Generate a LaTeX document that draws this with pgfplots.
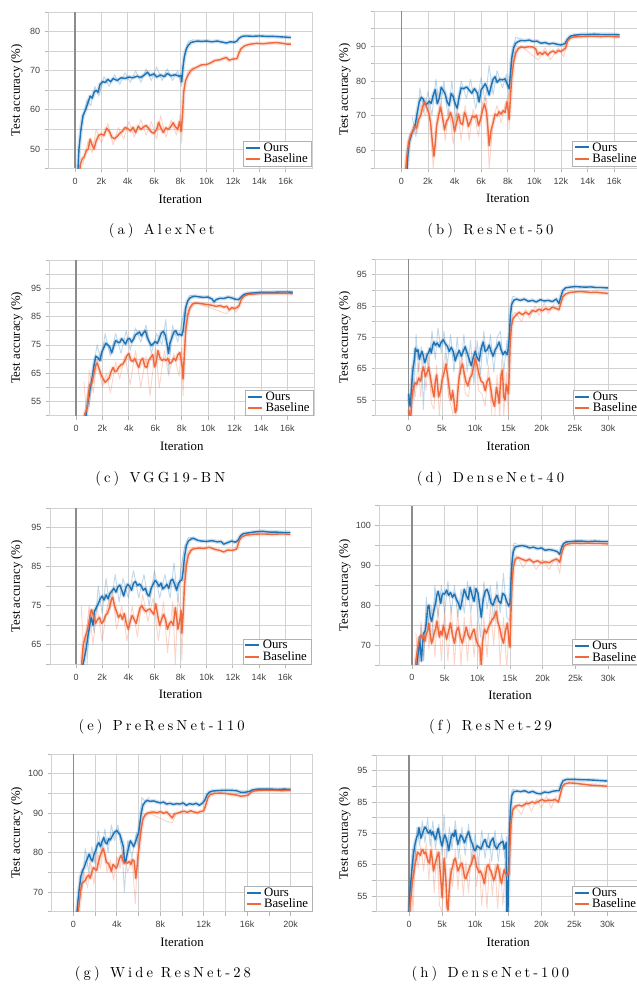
\documentclass[border=0pt]{standalone}
\usepackage{fontspec}
\setmainfont{Liberation Serif}
\newfontfamily\tickff{Liberation Sans}
\newfontfamily\capff{lmroman10-regular.otf}[LetterSpace=21]
\usepackage{pgfplots}
\usepackage{pgfplotstable}
\pgfplotsset{compat=1.18}
\definecolor{cblue}{RGB}{31,114,180}
\definecolor{corange}{RGB}{240,104,60}
\newcommand\labf{\fontsize{12.8}{14}\selectfont}
\newcommand\legf{\fontsize{12.8}{13.5}\selectfont}
\newcommand\tickf{\tickff\fontsize{9}{10}\selectfont}
\newcommand\capf{\capff\fontsize{14.6}{16}\selectfont}

% ---------- mean curves ----------
\pgfplotstableread[row sep=\\]{x y\\0.15 40\\0.3 50\\0.45 55\\0.6 58.5\\0.8 60\\1.0 62\\1.15 63.5\\1.3 63\\1.45 64.5\\1.6 65\\1.75 64.5\\1.9 66.5\\2.1 67.2\\2.3 67\\2.5 67.8\\2.7 67.2\\2.9 68\\3.2 67.5\\3.5 68.2\\3.8 68\\4.1 68.4\\4.4 68.2\\4.7 68.6\\5.0 68.3\\5.3 69.0\\5.5 69.6\\5.7 68.8\\6.0 69.2\\6.2 68.4\\6.5 68.9\\6.8 68.5\\7.0 69.3\\7.3 68.7\\7.6 69.0\\7.9 68.6\\8.05 68.8\\8.1 67.2\\8.2 71\\8.3 73.5\\8.45 75.5\\8.6 76.5\\8.8 77.2\\9.0 77.4\\9.3 77.6\\9.6 77.5\\10 77.6\\10.4 77.4\\10.8 77.6\\11.2 77.3\\11.5 77.1\\11.8 77.4\\12.1 77.3\\12.3 77.6\\12.45 78.3\\12.7 78.8\\13 78.9\\13.5 78.8\\14 78.9\\14.5 78.8\\15 78.8\\15.5 78.7\\16 78.6\\16.4 78.5\\}\aO
\pgfplotstableread[row sep=\\]{x y\\0.25 40\\0.4 46\\0.55 47.5\\0.7 48\\0.85 49.5\\1.0 50\\1.15 52.5\\1.3 51\\1.45 50\\1.6 52\\1.8 53.5\\2.0 53.8\\2.2 53.5\\2.4 55.3\\2.6 54.5\\2.8 53\\3.0 52.6\\3.2 53.2\\3.4 54\\3.6 54.5\\3.8 55.5\\4.0 55.2\\4.2 54.6\\4.4 55.5\\4.6 54.2\\4.8 55.8\\5.0 55\\5.2 55.6\\5.4 56\\5.6 55.2\\5.8 54.3\\6.0 54\\6.2 55\\6.35 56.8\\6.5 55.5\\6.7 54.2\\6.9 55.4\\7.1 55\\7.3 55.8\\7.45 56.7\\7.6 55.8\\7.8 55\\7.95 57\\8.05 54.5\\8.15 58\\8.25 64.5\\8.4 67.5\\8.6 69\\8.8 70\\9.0 70.5\\9.3 71\\9.6 71.5\\10 71.6\\10.3 72\\10.6 72.6\\11 72.8\\11.3 73.2\\11.5 73.4\\11.7 72.7\\12 73.0\\12.3 73.1\\12.45 74.5\\12.6 75.6\\12.9 76.4\\13.3 76.8\\13.8 77\\14.3 76.9\\14.8 77.1\\15.3 77.2\\15.8 77\\16.1 76.8\\16.4 76.8\\}\aB

\pgfplotstableread[row sep=\\]{x y\\0.35 50\\0.5 59\\0.6 62.5\\0.75 64.5\\0.9 66\\1.05 67.5\\1.2 71\\1.35 74\\1.5 75.3\\1.65 74.8\\1.8 73.2\\1.95 73.5\\2.1 74.2\\2.25 73.6\\2.4 76\\2.55 77.5\\2.7 73.5\\2.85 75\\3.0 78.2\\3.15 77.3\\3.3 76.2\\3.45 74\\3.6 73\\3.75 76.4\\3.9 75.5\\4.05 73.5\\4.2 72.2\\4.35 75.5\\4.5 78\\4.7 77.8\\4.9 78.3\\5.1 77.4\\5.3 76.5\\5.5 77.8\\5.7 76.6\\5.85 74\\6.0 77.5\\6.15 78.2\\6.3 79.2\\6.45 78\\6.6 76\\6.75 78.5\\6.9 80.5\\7.05 81.2\\7.2 79.6\\7.4 80.5\\7.6 80.3\\7.8 80.6\\7.95 79.2\\8.1 77.8\\8.2 82\\8.3 86.5\\8.45 89.5\\8.6 90.8\\8.8 91.3\\9.0 91.6\\9.3 91.5\\9.6 91.7\\9.9 91.3\\10.2 91.4\\10.5 90.8\\10.8 91\\11.1 90.6\\11.4 90.8\\11.7 90.5\\12.0 90.3\\12.3 90.7\\12.5 92\\12.7 92.8\\13 93.1\\13.5 93.3\\14 93.3\\14.5 93.4\\15 93.3\\15.5 93.3\\16 93.3\\16.4 93.2\\}\bO
\pgfplotstableread[row sep=\\]{x y\\0.25 50\\0.4 58\\0.55 62.5\\0.7 64.5\\0.85 65.5\\1.0 67\\1.15 66.5\\1.3 69\\1.45 70\\1.6 72.5\\1.75 74\\1.9 72.5\\2.05 71\\2.2 68\\2.3 64\\2.45 58.5\\2.55 62\\2.65 67\\2.8 70\\2.95 72.5\\3.1 69.5\\3.25 66\\3.4 68.5\\3.55 69.3\\3.7 71\\3.85 69\\4.0 65.5\\4.15 68\\4.3 70.5\\4.45 68\\4.6 67.5\\4.75 71\\4.9 69.5\\5.05 67\\5.2 68.5\\5.35 70\\5.5 69.5\\5.65 70.2\\5.8 67.2\\5.95 69\\6.1 71.5\\6.25 73.5\\6.4 71\\6.5 67\\6.6 61.5\\6.75 66\\6.9 68\\7.05 70.5\\7.2 70\\7.35 71.2\\7.5 70.5\\7.65 71.5\\7.8 71\\7.95 74\\8.05 71\\8.1 69\\8.2 75\\8.3 81\\8.45 85.5\\8.6 88\\8.8 89.3\\9.0 89.7\\9.3 89.6\\9.6 89.8\\9.9 89.7\\10.1 89.2\\10.25 87.5\\10.4 88.2\\10.6 87.6\\10.8 88.3\\11.0 87.4\\11.2 88.2\\11.4 88.6\\11.6 88\\11.8 88.7\\12.0 88.4\\12.2 89\\12.35 89.5\\12.5 91.5\\12.7 92.3\\13 92.6\\13.5 92.7\\14 92.8\\14.5 92.8\\15 92.7\\15.5 92.8\\16 92.7\\16.4 92.6\\}\bB

\pgfplotstableread[row sep=\\]{x y\\0.65 45\\0.8 52\\0.95 56\\1.1 60.5\\1.25 64\\1.35 67.5\\1.5 71\\1.65 70.5\\1.8 69.5\\1.95 72.5\\2.1 74\\2.25 75.6\\2.4 75\\2.55 74.3\\2.7 72.2\\2.85 74.5\\3.0 76.5\\3.15 76\\3.3 75.8\\3.45 77.2\\3.6 76.3\\3.75 75.3\\3.9 77\\4.05 77.3\\4.2 76\\4.35 77\\4.5 78.6\\4.65 79\\4.8 79.6\\4.95 78.2\\5.1 79.3\\5.25 80\\5.4 77.5\\5.55 76\\5.7 74.8\\5.85 75.5\\6.0 76.2\\6.15 75.5\\6.3 77.2\\6.45 79.2\\6.6 79.8\\6.75 78.5\\6.9 75\\7.0 72\\7.1 75.5\\7.25 77.5\\7.4 79.5\\7.55 80\\7.7 78.5\\7.85 78.8\\8.0 78.3\\8.1 80\\8.2 84\\8.3 88\\8.45 90.5\\8.6 91.5\\8.8 92\\9.0 92.2\\9.3 92\\9.6 91.8\\10.0 91.9\\10.3 91.2\\10.45 90.2\\10.6 91\\10.9 91.5\\11.2 91.4\\11.5 91.9\\11.8 91.6\\12.0 91.2\\12.3 91\\12.5 92\\12.7 92.8\\13 93.2\\13.5 93.4\\14 93.6\\14.5 93.6\\15 93.6\\15.5 93.7\\16 93.7\\16.4 93.6\\}\cO
\pgfplotstableread[row sep=\\]{x y\\0.55 45\\0.65 50.5\\0.75 51.5\\0.85 53\\0.95 58\\1.05 61\\1.2 61.5\\1.35 65\\1.5 68\\1.6 68.6\\1.75 66.5\\1.9 64.5\\2.05 63\\2.2 61.8\\2.35 62.5\\2.5 63.2\\2.65 65.5\\2.8 67\\2.95 65.5\\3.1 66\\3.25 67.2\\3.4 68\\3.55 68.3\\3.7 69.5\\3.85 71.2\\4.0 72\\4.15 69.5\\4.3 69.2\\4.45 70.2\\4.6 68.5\\4.75 67\\4.9 69.5\\5.05 70.3\\5.2 67.5\\5.35 67\\5.5 69.5\\5.65 70.5\\5.8 71.6\\5.95 67.2\\6.05 68.5\\6.2 73\\6.35 70.5\\6.5 69.5\\6.65 70\\6.8 69.5\\6.95 70.2\\7.1 68.5\\7.25 69\\7.4 70.3\\7.55 69.5\\7.7 71.5\\7.85 72.3\\7.95 70\\8.05 67\\8.1 63\\8.2 72\\8.3 80\\8.45 85.5\\8.6 88\\8.8 89.4\\9.0 89.8\\9.3 89.7\\9.6 89.5\\10 89.2\\10.3 89\\10.6 88.6\\10.9 88.9\\11.2 88.3\\11.4 88.7\\11.6 87.4\\11.8 88.2\\12.0 87.8\\12.2 88.3\\12.35 89\\12.5 91\\12.7 92.2\\13 92.8\\13.5 93\\14 93.2\\14.5 93.2\\15 93.2\\15.5 93.2\\16 93.2\\16.4 93.1\\}\cB

\pgfplotstableread[row sep=\\]{x y\\0.0 57\\0.1 54\\0.25 53\\0.45 60\\0.65 65\\0.85 68\\1.0 71.5\\1.2 70.5\\1.4 71\\1.6 68\\1.8 69.5\\2.0 70.5\\2.2 69\\2.4 67\\2.6 68\\2.8 69.5\\3.0 70.2\\3.2 71.5\\3.4 70\\3.6 72.5\\3.8 73.5\\4.0 72.5\\4.3 73.2\\4.6 72\\4.9 73.5\\5.2 74.2\\5.5 73\\5.8 72.2\\6.1 70.5\\6.4 71.8\\6.7 70.5\\7.0 67.5\\7.3 69.5\\7.6 70.8\\7.9 69\\8.2 70.5\\8.5 72\\8.8 70\\9.1 68\\9.4 66\\9.7 68.5\\10.0 70.5\\10.3 68.5\\10.6 67.5\\10.9 71.5\\11.2 73.5\\11.5 70.5\\11.8 71\\12.1 72.5\\12.4 70.5\\12.7 69\\13.0 71\\13.3 72\\13.6 73.5\\13.9 71\\14.2 69.5\\14.5 70.5\\14.8 69.5\\15.0 71.5\\15.15 76\\15.3 82\\15.5 85.5\\15.8 86.8\\16.2 87.2\\16.8 86.8\\17.4 87.2\\18 86.5\\18.6 86.8\\19.2 86.3\\19.8 87\\20.4 86.6\\21 86.8\\21.6 86.4\\22.2 87.2\\22.6 85.8\\22.9 88\\23.2 90\\23.6 90.8\\24.2 91\\25 91.2\\25.8 91.1\\26.6 91\\27.4 91.1\\28.2 90.9\\29 90.9\\29.6 90.8\\30 90.8\\}\dO
\pgfplotstableread[row sep=\\]{x y\\0.0 52\\0.15 50\\0.3 49\\0.45 55\\0.6 58\\0.8 59.5\\1.0 60.5\\1.2 60\\1.5 62\\1.8 61\\2.0 64\\2.2 65.5\\2.5 62.5\\2.8 64\\3.0 65.5\\3.2 63\\3.4 60.5\\3.6 58\\3.8 56\\4.0 61\\4.2 63\\4.5 56\\4.8 58\\5.0 61\\5.3 63.5\\5.6 66.5\\5.9 62\\6.2 57\\6.4 55\\6.6 58\\6.8 55\\7.0 51\\7.2 52\\7.4 58\\7.6 62.5\\7.9 65.5\\8.1 66.5\\8.4 63\\8.6 61\\8.9 59.5\\9.2 62\\9.5 63\\9.8 66\\10.0 68.5\\10.3 66\\10.6 63\\10.9 61\\11.2 60.5\\11.5 58\\11.8 61\\12.1 62\\12.4 58\\12.6 55\\12.9 53\\13.2 59\\13.4 57\\13.6 54\\13.9 63\\14.1 64.5\\14.3 56\\14.5 55\\14.7 60\\15.0 57\\15.1 62\\15.25 72\\15.45 78.5\\15.7 81\\16.1 82\\16.6 83\\17.1 82.2\\17.6 83\\18.1 82.3\\18.6 83.6\\19.1 83.2\\19.6 84\\20.1 83.5\\20.6 84.2\\21.1 83.8\\21.6 84.6\\22.1 84.3\\22.6 83.8\\22.9 86\\23.2 88\\23.6 88.8\\24.2 89.3\\25 89.5\\25.8 89.6\\26.6 89.5\\27.4 89.3\\28.2 89.4\\29 89.2\\29.6 89.1\\30 89\\}\dB

\pgfplotstableread[row sep=\\]{x y\\0.35 55\\0.5 59.5\\0.6 61\\0.75 63.5\\0.9 67\\1.05 70\\1.15 72\\1.3 70\\1.4 73.5\\1.55 74.5\\1.7 75.5\\1.85 76.8\\2.0 77.5\\2.15 76.5\\2.3 77.8\\2.45 76.8\\2.6 78.2\\2.75 78.8\\2.9 79.5\\3.05 78.5\\3.2 79.8\\3.35 80.3\\3.5 79\\3.65 77.5\\3.8 79.5\\3.95 80.5\\4.1 80\\4.25 79\\4.4 80.8\\4.55 81.2\\4.7 80.2\\4.85 80.6\\5.0 80\\5.15 79\\5.3 79.5\\5.45 78\\5.6 77.5\\5.75 79.5\\5.9 80.5\\6.05 81.5\\6.2 81\\6.35 80\\6.5 80.8\\6.65 79.3\\6.8 79.8\\6.95 80.5\\7.1 79.5\\7.25 81.5\\7.4 81.8\\7.55 80.5\\7.7 79\\7.85 80.8\\8.0 81.5\\8.1 81.6\\8.2 84\\8.3 87.5\\8.45 90.5\\8.6 91.6\\8.8 92.1\\9.0 92.3\\9.3 91.8\\9.6 91.6\\10 91.5\\10.4 91.7\\10.8 91.4\\11.1 91.5\\11.3 90.8\\11.6 91.2\\11.9 91.6\\12.2 91.3\\12.4 91.8\\12.6 93\\12.8 93.5\\13.2 93.7\\13.8 94\\14.3 94.1\\14.8 93.9\\15.3 93.9\\15.8 93.8\\16.4 93.8\\}\eO
\pgfplotstableread[row sep=\\]{x y\\0.35 55\\0.45 61\\0.55 65\\0.7 67\\0.85 68.5\\1.0 71\\1.1 73\\1.2 74\\1.35 72\\1.5 70.5\\1.65 71.5\\1.8 72\\1.95 70.5\\2.1 71\\2.25 72.5\\2.4 73\\2.55 74.5\\2.7 76.5\\2.8 77.2\\2.95 75\\3.1 73.5\\3.25 72\\3.4 72.8\\3.55 71.5\\3.7 73\\3.85 70.5\\4.0 69\\4.15 71\\4.3 72.5\\4.45 71.5\\4.6 70.5\\4.75 72.5\\4.9 74.5\\5.05 75\\5.2 74\\5.35 73.5\\5.5 74\\5.65 74.2\\5.8 73.5\\5.95 72.8\\6.1 75.5\\6.25 72.5\\6.4 70\\6.55 71.5\\6.7 72.8\\6.85 71.5\\7.0 69\\7.15 70.5\\7.3 71\\7.45 70\\7.6 74.5\\7.7 72\\7.8 69\\7.95 71.5\\8.05 73.8\\8.1 68\\8.2 73\\8.3 80\\8.45 85.5\\8.6 88\\8.8 89.2\\9.0 89.6\\9.4 89.8\\9.8 89.7\\10.2 90\\10.6 89.5\\11.0 89.2\\11.3 88.8\\11.6 89.3\\12.0 89.2\\12.3 89.6\\12.5 91.8\\12.7 92.7\\13 93.1\\13.5 93.3\\14 93.4\\14.5 93.4\\15 93.3\\15.5 93.4\\16 93.4\\16.4 93.3\\}\eB

\pgfplotstableread[row sep=\\]{x y\\0.6 62\\0.8 66\\1.0 68.5\\1.15 72\\1.3 69\\1.45 66\\1.6 70\\1.8 73\\2.0 73.5\\2.2 75.5\\2.4 79.5\\2.6 80\\2.8 77\\3.0 76\\3.2 77.5\\3.4 79\\3.6 80.5\\3.8 82.5\\4.0 83.5\\4.2 82\\4.4 80.5\\4.6 82.5\\4.8 83\\5.0 82.8\\5.3 83.8\\5.6 82.5\\5.9 83.2\\6.2 82\\6.5 82.8\\6.8 81.5\\7.1 80.5\\7.4 79\\7.7 81.5\\8.0 84\\8.3 82.5\\8.6 81.5\\8.9 84.5\\9.2 82.5\\9.5 81\\9.8 84.2\\10.1 83\\10.4 79.5\\10.6 77\\10.9 81.5\\11.2 83.5\\11.5 84\\11.8 82.5\\12.1 80.5\\12.4 80\\12.7 81.5\\13.0 82.5\\13.3 81\\13.6 80.5\\13.9 83\\14.2 82.5\\14.5 81\\14.8 79.8\\15.0 80.5\\15.15 86\\15.3 90.5\\15.5 93.5\\15.8 94.6\\16.2 94.8\\16.8 95\\17.4 94.8\\18 94.4\\18.6 94.6\\19.2 94.2\\19.8 94.4\\20.4 93.8\\21 94\\21.6 93.8\\22.2 93.5\\22.6 92.8\\22.9 94.5\\23.2 95.5\\23.6 95.9\\24.3 96\\25 96.1\\26 96.1\\27 96\\28 96.1\\29 96\\30 96\\}\fO
\pgfplotstableread[row sep=\\]{x y\\0.4 62\\0.6 66\\0.8 68.5\\1.0 70.5\\1.2 72\\1.4 72.5\\1.6 71.5\\1.8 72.5\\2.0 71\\2.2 73\\2.4 73.5\\2.6 75.5\\2.8 72.5\\3.0 70.5\\3.2 71.5\\3.4 73\\3.6 74\\3.8 76\\4.0 74\\4.2 72\\4.4 73.5\\4.6 72.5\\4.8 75\\5.0 73.5\\5.3 71.5\\5.6 73.5\\5.9 75.5\\6.2 72.5\\6.5 70.5\\6.8 73.5\\7.1 74.5\\7.4 72\\7.7 70.5\\8.0 72.5\\8.3 74.5\\8.6 72.5\\8.9 71.5\\9.2 73\\9.5 74\\9.8 71.5\\10.1 70\\10.4 69.5\\10.6 65\\10.8 71\\11.1 74\\11.4 73\\11.7 74.5\\12.0 75.5\\12.3 76.5\\12.6 77\\12.9 78.5\\13.1 76\\13.4 74.5\\13.7 72\\14.0 70.5\\14.3 73.5\\14.6 75.5\\14.9 70\\15.0 69.5\\15.15 78\\15.3 85\\15.5 89.5\\15.8 91.5\\16.2 92\\16.8 91.6\\17.4 91.2\\18 91.5\\18.6 90.8\\19.2 91.2\\19.8 90.6\\20.4 90.9\\21 90.7\\21.6 91.3\\22.2 91.6\\22.6 90.8\\22.9 93\\23.2 94.6\\23.6 95.3\\24.3 95.5\\25 95.6\\26 95.5\\27 95.6\\28 95.5\\29 95.5\\30 95.4\\}\fB

\pgfplotstableread[row sep=\\]{x y\\0.25 62\\0.4 67\\0.55 71\\0.7 74\\0.85 75.5\\1.0 76.2\\1.15 77.5\\1.3 78.5\\1.45 79.6\\1.6 78.5\\1.75 77.8\\1.9 79.5\\2.05 80.5\\2.2 81.8\\2.35 82.5\\2.5 81.5\\2.65 82.8\\2.8 83.8\\2.95 82.5\\3.1 82.2\\3.25 83.5\\3.4 83.2\\3.55 84\\3.7 84.8\\3.85 85.3\\4.0 85.6\\4.15 85\\4.3 84.5\\4.45 83\\4.6 81.5\\4.7 78\\4.8 77.5\\4.95 79.5\\5.1 81.5\\5.25 83\\5.4 82.3\\5.55 81.5\\5.7 82.5\\5.85 83.8\\6.0 85\\6.1 87\\6.25 90\\6.4 92\\6.6 92.8\\6.8 93.2\\7.1 93\\7.4 93.1\\7.7 92.8\\8.0 92.6\\8.3 92.8\\8.6 92.3\\8.9 92.5\\9.2 92.2\\9.5 92.4\\9.8 92.3\\10.1 92.6\\10.4 92\\10.7 92.4\\11.0 92.2\\11.3 92.5\\11.6 92\\11.9 92.6\\12.1 93.3\\12.3 94.6\\12.5 95.3\\12.8 95.6\\13.2 95.7\\13.8 95.8\\14.4 95.8\\15 95.7\\15.4 95.3\\15.8 95.3\\16.2 95.5\\16.5 95.9\\17 96.1\\17.6 96.1\\18.2 96.1\\18.8 96\\19.4 96.1\\20 96\\}\gO
\pgfplotstableread[row sep=\\]{x y\\0.35 62\\0.5 66\\0.65 70\\0.8 72.3\\0.95 72.5\\1.1 73\\1.25 73.8\\1.4 74.3\\1.55 73.5\\1.7 75\\1.85 76.2\\2.0 75.8\\2.15 75.5\\2.3 77.5\\2.45 79\\2.6 80.2\\2.75 81\\2.9 79.5\\3.05 77.5\\3.2 77.3\\3.35 76.5\\3.5 75.2\\3.65 77\\3.8 76.5\\3.95 76\\4.1 77\\4.25 78.5\\4.4 79.3\\4.55 78\\4.7 77.2\\4.85 77.6\\5.0 77.3\\5.15 77.8\\5.3 77\\5.45 78.2\\5.6 77.8\\5.75 73.5\\5.85 76\\5.95 79\\6.1 82.5\\6.25 86\\6.4 88.5\\6.6 89.5\\6.8 90\\7.1 90.2\\7.4 90.3\\7.7 90.1\\8.0 90.4\\8.3 90\\8.6 90.3\\8.9 89.4\\9.1 88.8\\9.3 89.8\\9.6 90\\9.9 90.3\\10.2 90.5\\10.5 90.2\\10.8 90.6\\11.1 90.3\\11.4 90.1\\11.7 90.4\\12.0 90.6\\12.2 92.2\\12.4 94\\12.6 94.7\\13 95\\13.5 95.1\\14 95\\14.5 94.8\\15 94.6\\15.4 94.3\\15.8 94.4\\16.1 94.6\\16.4 95.4\\16.8 95.7\\17.4 95.8\\18 95.8\\18.6 95.8\\19.2 95.7\\20 95.8\\}\gB

\pgfplotstableread[row sep=\\]{x y\\0.0 49\\0.1 55\\0.25 59\\0.45 64\\0.65 68\\0.85 71\\1.0 72.5\\1.2 74\\1.35 74.5\\1.5 76.8\\1.65 75\\1.8 73.5\\2.0 74.8\\2.2 76\\2.4 77\\2.6 76.5\\2.8 75.5\\3.0 75\\3.2 76\\3.4 74.5\\3.6 75.5\\3.8 74\\4.0 73\\4.2 75\\4.4 76.5\\4.6 74.5\\4.8 72.5\\5.0 71\\5.2 73\\5.4 74.5\\5.6 73.5\\5.8 72\\6.0 69.5\\6.2 72\\6.4 74\\6.6 75\\6.8 74\\7.0 76\\7.2 73.5\\7.4 71.5\\7.6 73\\7.8 74.5\\8.0 74\\8.2 73\\8.4 72\\8.6 73.5\\8.8 74.5\\9.0 75.5\\9.2 74\\9.4 72.5\\9.6 71.5\\9.8 70\\10.0 69.5\\10.3 71\\10.6 70.5\\10.9 70\\11.2 72\\11.5 73\\11.8 71\\12.1 70.5\\12.4 72.5\\12.7 73.5\\13.0 71\\13.3 70\\13.6 71.5\\13.9 72\\14.2 72.5\\14.4 70\\14.6 71.5\\14.7 72\\14.75 60\\14.8 48\\14.95 48\\15.05 62\\15.2 75\\15.35 83\\15.55 87\\15.8 88.2\\16.3 88.5\\16.9 88.3\\17.5 88.6\\18.1 88\\18.7 88.4\\19.3 87.8\\19.9 87.6\\20.5 88.2\\21.1 88\\21.7 88.4\\22.3 88.6\\22.7 88.6\\23.0 90.5\\23.3 91.8\\23.8 92.2\\24.5 92.2\\25.3 92.2\\26.1 92.1\\26.9 92.1\\27.7 92\\28.5 91.9\\29.3 91.8\\30 91.7\\}\hO
\pgfplotstableread[row sep=\\]{x y\\0.05 48\\0.15 52\\0.3 55\\0.5 59.5\\0.7 62.5\\0.9 65\\1.1 67\\1.3 69\\1.5 68.5\\1.7 68\\1.9 69.5\\2.1 69.8\\2.3 68.5\\2.5 69\\2.7 67.5\\2.9 66\\3.1 65.5\\3.3 69.5\\3.5 67\\3.7 63\\3.9 65\\4.1 66.5\\4.3 68\\4.5 69\\4.7 63\\4.85 59\\5.0 54.5\\5.15 60\\5.3 67\\5.45 63.5\\5.6 59\\5.75 51.5\\5.9 50.5\\6.05 56\\6.2 60\\6.4 63\\6.6 64.5\\6.8 66.5\\7.0 67\\7.2 65\\7.4 63\\7.6 64\\7.8 65\\8.0 65.5\\8.2 63.5\\8.4 61\\8.6 60.5\\8.8 62\\9.0 63\\9.2 64.5\\9.4 65\\9.6 66.5\\9.8 68\\10.0 67\\10.2 64.5\\10.4 63.5\\10.6 62.5\\10.8 63\\11.0 62\\11.2 60.5\\11.4 59\\11.6 62\\11.8 64.5\\12.0 65\\12.2 63.5\\12.4 63\\12.6 61.5\\12.8 60\\13.0 61\\13.2 63\\13.4 65\\13.6 63\\13.8 60.5\\14.0 59\\14.2 61.5\\14.4 63.5\\14.6 62\\14.8 61.5\\15.0 62.5\\15.1 62\\15.25 70\\15.45 79\\15.7 82.5\\16.1 83.6\\16.6 84\\17.1 83.7\\17.6 84.4\\18.1 84.5\\18.6 85\\19.1 84.7\\19.6 85.2\\20.1 85.8\\20.6 85.3\\21.1 85.6\\21.6 85.5\\22.1 85.8\\22.6 85\\22.9 87.5\\23.2 90\\23.6 90.8\\24.2 91.1\\25 91\\25.8 90.8\\26.6 90.6\\27.4 90.4\\28.2 90.3\\29 90.2\\29.6 90.1\\30 90\\}\hB

% ---------- light spread (band extremes) ----------
\pgfplotstableread[row sep=\\]{x y\\0.5 56\\0.9 62.5\\1.2 61\\1.5 66\\1.8 63.5\\2.2 68.5\\2.6 66\\3.0 69\\3.4 66.5\\3.8 69.5\\4.2 67\\4.6 70\\5.0 67\\5.4 70.5\\5.8 67.5\\6.2 71\\6.6 67.5\\7.0 70.5\\7.4 67.5\\7.8 70\\8.1 66\\8.3 74\\8.6 77.5\\9 78\\}\aOl
\pgfplotstableread[row sep=\\]{x y\\0.6 46\\1.0 52\\1.3 49\\1.6 55\\2.0 51.5\\2.5 56.5\\2.9 51\\3.3 55.5\\3.7 52.5\\4.1 57\\4.5 53\\5.0 57.5\\5.4 53.5\\5.8 57\\6.2 52.5\\6.5 58.5\\6.9 53\\7.3 57.5\\7.7 53.5\\8.0 59\\8.1 51.5\\8.3 66\\8.6 70\\9 71\\}\aBl
\pgfplotstableread[row sep=\\]{x y\\0.8 70\\1.1 64\\1.4 78\\1.7 71\\2.0 77\\2.3 70\\2.6 80.5\\2.9 71\\3.2 80\\3.5 70\\3.8 80\\4.1 69\\4.5 80\\4.9 75\\5.2 80.5\\5.6 72\\6.0 81\\6.3 74\\6.6 84.5\\6.9 76\\7.2 83\\7.6 78\\7.9 82\\8.1 75\\8.3 88\\8.6 92.5\\9 92\\}\bOl
\pgfplotstableread[row sep=\\]{x y\\0.9 68\\1.2 65\\1.5 73\\1.8 70\\2.1 74\\2.4 55\\2.7 70\\3.0 74\\3.3 63\\3.6 72\\3.9 62\\4.2 72\\4.5 63\\4.8 73\\5.1 63\\5.4 72\\5.8 64\\6.1 74\\6.4 75\\6.6 55\\6.9 69\\7.2 73\\7.5 68\\7.8 73\\8.05 76\\8.1 66\\8.3 85\\8.6 89\\9 90\\10.3 86\\10.8 89.5\\11.2 86\\11.8 89.5\\12.2 87\\12.5 91\\}\bBl
\pgfplotstableread[row sep=\\]{x y\\1.0 53\\1.3 67\\1.6 75\\1.9 69\\2.2 79\\2.6 71\\3.0 79\\3.4 72\\3.8 80\\4.1 73\\4.5 81\\4.9 76\\5.3 82\\5.7 72\\6.1 79\\6.5 75\\6.8 84\\7.0 65\\7.3 82\\7.7 76\\8.0 83\\8.3 89\\8.6 92.5\\9 92.5\\}\cOl
\pgfplotstableread[row sep=\\]{x y\\0.6 62\\0.8 50\\1.0 66\\1.3 58\\1.6 70\\2.0 60\\2.3 65\\2.6 58\\3.0 69\\3.3 63\\3.7 71\\4.1 61\\4.5 73\\4.9 60\\5.3 71\\5.6 57\\6.0 74\\6.3 60\\6.7 73\\7.0 64\\7.4 72\\7.8 64\\8.0 74\\8.1 57\\8.3 82\\8.6 87\\9 90\\11.4 86\\11.8 88.5\\12.1 86.5\\12.4 89\\}\cBl
\pgfplotstableread[row sep=\\]{x y\\0.2 50\\0.5 66\\0.8 55\\1.1 76\\1.5 64\\1.9 72\\2.2 52\\2.6 70\\3.0 65\\3.5 77\\4.0 68\\4.4 78\\4.9 70\\5.3 77\\5.8 66\\6.3 76\\6.8 64\\7.3 75\\7.8 63\\8.3 76\\8.8 64\\9.3 74\\9.8 60\\10.3 74\\10.8 63\\11.3 77\\11.8 66\\12.3 76\\12.8 64\\13.3 75\\13.8 77\\14.3 64\\14.8 74\\15.0 66\\15.3 84\\15.6 88\\16 88\\}\dOl
\pgfplotstableread[row sep=\\]{x y\\0.1 56\\0.3 46\\0.6 62\\1.0 56\\1.4 67\\1.8 56\\2.2 68\\2.6 58\\3.0 69\\3.4 54\\3.8 52\\4.2 66\\4.6 50\\5.0 63\\5.5 70\\6.0 56\\6.5 52\\7.0 47\\7.5 62\\8.0 70\\8.5 57\\9.0 56\\9.5 66\\10.0 72\\10.5 58\\11.0 57\\11.5 53\\12.0 66\\12.5 50\\12.9 48\\13.3 63\\13.7 49\\14.0 68\\14.3 50\\14.7 64\\15.0 50\\15.3 76\\15.6 82\\16 83\\17 80\\17.6 84\\18.2 81\\19 85\\19.6 82\\20.4 86\\21 82.5\\22 86\\}\dBl
\pgfplotstableread[row sep=\\]{x y\\0.8 58\\1.1 74\\1.4 68\\1.7 80\\2.0 73\\2.3 82\\2.6 74\\3.0 83\\3.3 76\\3.6 82\\4.0 77\\4.4 84\\4.8 77\\5.2 83\\5.6 75\\6.0 84\\6.4 77\\6.8 83\\7.2 77\\7.5 86\\7.8 76\\8.0 84\\8.3 90\\8.6 92.5\\9 92.5\\}\eOl
\pgfplotstableread[row sep=\\]{x y\\0.4 75\\0.6 62\\1.0 75\\1.3 65\\1.6 75\\2.0 66\\2.4 75\\2.8 79\\3.1 69\\3.5 75\\3.9 66\\4.3 75\\4.7 67\\5.1 78\\5.5 71\\5.9 77\\6.3 66\\6.7 76\\7.0 63\\7.4 76\\7.6 60\\7.8 77\\8.0 74\\8.1 61\\8.3 84\\8.6 89\\9 90\\}\eBl
\pgfplotstableread[row sep=\\]{x y\\0.7 68\\1.0 62\\1.4 75\\1.8 66\\2.2 82\\2.6 75\\3.0 70\\3.5 85\\4.0 77\\4.5 85\\5.0 78\\5.5 86\\6.0 78\\6.5 85\\7.0 77\\7.5 84\\8.0 78\\8.5 86\\9.0 78\\9.5 85\\10.0 79\\10.5 72\\11.0 86\\11.5 79\\12.0 85\\12.5 76\\13.0 86\\13.5 78\\14.0 88\\14.5 77\\15.0 76\\15.3 92\\15.6 95.5\\16 95.5\\}\fOl
\pgfplotstableread[row sep=\\]{x y\\0.6 73\\1.0 65\\1.4 76\\1.8 67\\2.2 78\\2.6 69\\3.0 80\\3.5 67\\4.0 80\\4.5 66\\5.0 79\\5.5 66\\6.0 80\\6.5 65\\7.0 79\\7.5 65\\8.0 77\\8.5 66\\9.0 78\\9.5 67\\10.0 76\\10.5 62\\11.0 77\\11.5 67\\12.0 80\\12.5 70\\13.0 82\\13.5 65\\14.0 77\\14.5 64\\15.0 79\\15.3 87\\15.6 91\\16 92.5\\17 89.5\\18 92\\19 89\\20 91.5\\21 89\\22 92\\22.6 88\\23 94\\}\fBl
\pgfplotstableread[row sep=\\]{x y\\0.5 74\\0.8 71\\1.1 81\\1.4 75\\1.7 81.5\\2.0 77\\2.3 85.5\\2.6 80\\2.9 86\\3.2 80\\3.5 87\\3.8 83\\4.1 87\\4.5 80\\4.7 70\\5.0 83\\5.4 79\\5.8 85\\6.0 81\\6.3 94\\6.6 93\\7 94\\}\gOl
\pgfplotstableread[row sep=\\]{x y\\0.7 68\\1.0 75\\1.3 71\\1.6 77.5\\1.9 72\\2.2 80\\2.5 76\\2.8 82\\3.1 75\\3.4 78\\3.7 73\\4.0 79\\4.3 76\\4.6 81\\5.0 75\\5.4 79\\5.7 67\\5.9 78\\6.2 86\\6.5 89\\7 90\\8.5 88\\9.1 87.5\\9.5 90\\}\gBl
\pgfplotstableread[row sep=\\]{x y\\0.2 50\\0.5 70\\0.8 62\\1.2 77\\1.6 71\\2.0 79\\2.4 72\\2.8 80\\3.2 71\\3.6 79\\4.0 70\\4.5 78\\5.0 68\\5.3 81\\5.7 67\\6.1 77\\6.5 70\\7.0 79\\7.5 67\\8.0 77\\8.5 68\\9.0 78\\9.5 66\\10.0 75\\10.5 65\\11.0 76\\11.5 67\\12.0 75\\12.5 66\\13.0 76\\13.5 66\\14.0 75\\14.5 67\\14.75 74\\15.0 70\\15.3 84\\15.6 89\\16 89\\}\hOl
\pgfplotstableread[row sep=\\]{x y\\0.3 62\\0.6 50\\1.0 70\\1.4 64\\1.8 71\\2.2 63\\2.6 72\\3.0 60\\3.4 73\\3.8 56\\4.2 70\\4.6 52\\5.0 50\\5.4 70\\5.8 48\\6.2 64\\6.6 58\\7.0 70\\7.4 57\\7.8 68\\8.2 55\\8.6 66\\9.0 56\\9.4 68\\9.8 71\\10.2 58\\10.6 66\\11.0 52\\11.4 64\\11.8 51\\12.2 67\\12.6 55\\13.0 65\\13.4 51\\13.8 64\\14.2 52\\14.6 66\\15.0 54\\15.3 78\\15.6 83\\16 84\\17 81\\17.8 85.5\\18.5 82\\19.3 86\\20 83\\20.8 87\\21.5 83\\22.3 87\\}\hBl

\pgfplotsset{
  myax/.style={
    scale only axis, anchor=south west,
    axis line style={draw=gray!35, line width=0.8pt},
    grid=both,
    major grid style={draw=gray!35, line width=0.8pt},
    minor grid style={draw=gray!35, line width=0.8pt},
    tick align=outside, tick pos=left,
    major tick length=4pt, minor tick length=4pt,
    tick style={draw=gray!55, line width=0.8pt},
    ticklabel style={font=\tickf, text=black!75},
    /pgf/number format/assume math mode=true,
    xticklabel style={yshift=-2pt},
    yticklabel style={xshift=-1pt},
    xlabel={Iteration},
    xlabel style={font=\labf, at={(axis description cs:0.5,0)}, anchor=center, yshift=-30.5pt},
    extra x ticks={0}, extra x tick labels={},
    extra x tick style={grid=major, major grid style={draw=black!45, line width=1.2pt}},
    legend style={at={(1,0)}, anchor=south east, draw=gray!60, line width=0.6pt, fill=white,
      font=\legf, inner xsep=1.5pt, inner ysep=1pt, row sep=0pt,
      nodes={inner xsep=2.5pt, inner ysep=0pt, text height=9pt, text depth=2.5pt}},
    legend cell align=left,
    legend image code/.code={\draw[#1, line width=2pt, opacity=1] (0pt,0.5pt) -- (14pt,0.5pt);},
  },
  band/.style={line width=4pt, opacity=0.2, forget plot, line join=round},
  lite/.style={line width=0.9pt, opacity=0.28, forget plot, line join=round},
  ln/.style={line width=1.4pt, line join=round},
}

\newcommand\panel[2]{%
\addplot[cblue, band] table {#1};
\addplot[corange, band] table {#2};
}

\begin{document}
\begin{tikzpicture}
\useasboundingbox (0pt,0pt) rectangle (637pt,985pt);

% (a)
\begin{axis}[myax, at={(48.7pt,816.5pt)}, width=263.3pt, height=156.4pt,
  xmin=-2, xmax=18, ymin=45, ymax=85,
  xtick={0,2,...,16}, xticklabels={0,2k,4k,6k,8k,10k,12k,14k,16k},
  ytick={50,60,70,80}, minor ytick={45,55,65,75,85}, legend style={at={(1,0.012)}}]
\addplot[cblue, lite] table {\aOl};
\addplot[corange, lite] table {\aBl};
\panel{\aO}{\aB}
\addplot[cblue, ln] table {\aO}; \addlegendentry{Ours}
\addplot[corange, ln] table {\aB}; \addlegendentry{Baseline}
\end{axis}

% (b)
\begin{axis}[myax, at={(374.7pt,816.7pt)}, width=266.1pt, height=157.2pt,
  xmin=-2, xmax=18, ymin=55, ymax=100,
  xtick={0,2,...,16}, xticklabels={0,2k,4k,6k,8k,10k,12k,14k,16k},
  ytick={60,70,80,90}, minor ytick={55,65,75,85,95,100}, legend style={at={(1,0.012)}}]
\addplot[cblue, lite] table {\bOl};
\addplot[corange, lite] table {\bBl};
\panel{\bO}{\bB}
\addplot[cblue, ln] table {\bO}; \addlegendentry{Ours}
\addplot[corange, ln] table {\bB}; \addlegendentry{Baseline}
\end{axis}

% (c)
\begin{axis}[myax, at={(49.6pt,569.3pt)}, width=264.3pt, height=155.7pt,
  xmin=-2, xmax=18, ymin=50, ymax=105,
  xtick={0,2,...,16}, xticklabels={0,2k,4k,6k,8k,10k,12k,14k,16k},
  ytick={55,65,75,85,95}, minor ytick={50,60,70,80,90,100,105}]
\addplot[cblue, lite] table {\cOl};
\addplot[corange, lite] table {\cBl};
\panel{\cO}{\cB}
\addplot[cblue, ln] table {\cO}; \addlegendentry{Ours}
\addplot[corange, ln] table {\cB}; \addlegendentry{Baseline}
\end{axis}

% (d)
\begin{axis}[myax, at={(375.5pt,569.3pt)}, width=265.8pt, height=156.7pt,
  xmin=-5, xmax=35, ymin=50, ymax=100,
  xtick={0,5,...,30}, xticklabels={0,5k,10k,15k,20k,25k,30k},
  ytick={55,65,75,85,95}, minor ytick={50,60,70,80,90,100}]
\addplot[cblue, lite] table {\dOl};
\addplot[corange, lite] table {\dBl};
\panel{\dO}{\dB}
\addplot[cblue, ln] table {\dO}; \addlegendentry{Ours}
\addplot[corange, ln] table {\dB}; \addlegendentry{Baseline}
\end{axis}

% (e)
\begin{axis}[myax, at={(49.9pt,320.7pt)}, width=261.3pt, height=156pt,
  xmin=-2, xmax=18, ymin=60, ymax=100,
  xtick={0,2,...,16}, xticklabels={0,2k,4k,6k,8k,10k,12k,14k,16k},
  ytick={65,75,85,95}, minor ytick={60,70,80,90,100}]
\addplot[cblue, lite] table {\eOl};
\addplot[corange, lite] table {\eBl};
\panel{\eO}{\eB}
\addplot[cblue, ln] table {\eO}; \addlegendentry{Ours}
\addplot[corange, ln] table {\eB}; \addlegendentry{Baseline}
\end{axis}

% (f)
\begin{axis}[myax, at={(379.3pt,320pt)}, width=261.4pt, height=159.3pt,
  xmin=-5, xmax=35, ymin=65, ymax=105,
  xtick={0,5,...,30}, xticklabels={0,5k,10k,15k,20k,25k,30k},
  ytick={70,80,90,100}, minor ytick={65,75,85,95,105}]
\addplot[cblue, lite] table {\fOl};
\addplot[corange, lite] table {\fBl};
\panel{\fO}{\fB}
\addplot[cblue, ln] table {\fO}; \addlegendentry{Ours}
\addplot[corange, ln] table {\fB}; \addlegendentry{Baseline}
\end{axis}

% (g)
\begin{axis}[myax, at={(51.6pt,73.3pt)}, width=260.8pt, height=157.7pt,
  xmin=-2, xmax=22, ymin=65, ymax=105,
  xtick={0,4,...,20}, xticklabels={0,4k,8k,12k,16k,20k}, minor xtick={2,6,10,14,18},
  ytick={70,80,90,100}, minor ytick={65,75,85,95,105}]
\addplot[cblue, lite] table {\gOl};
\addplot[corange, lite] table {\gBl};
\panel{\gO}{\gB}
\addplot[cblue, ln] table {\gO}; \addlegendentry{Ours}
\addplot[corange, ln] table {\gB}; \addlegendentry{Baseline}
\end{axis}

% (h)
\begin{axis}[myax, at={(376pt,73.3pt)}, width=264.4pt, height=156.7pt,
  xmin=-5, xmax=35, ymin=50, ymax=100,
  xtick={0,5,...,30}, xticklabels={0,5k,10k,15k,20k,25k,30k},
  ytick={55,65,75,85,95}, minor ytick={50,60,70,80,90,100}]
\addplot[cblue, lite] table {\hOl};
\addplot[corange, lite] table {\hBl};
\panel{\hO}{\hB}
\addplot[cblue, ln] table {\hO}; \addlegendentry{Ours}
\addplot[corange, ln] table {\hB}; \addlegendentry{Baseline}
\end{axis}

% y labels
\foreach \xx/\yy in {16.7/894.7, 344.7/895.3, 16.7/647.1, 344.7/647.6, 16.7/398.7, 344.7/399.6, 16.7/152.1, 344.7/151.6}
  \node[rotate=90, font=\labf] at (\xx pt,\yy pt) {Test accuracy (\%)};

% captions
\node[font=\capf] at (161.7pt,754.3pt) {(a)\, AlexNet};
\node[font=\capf] at (490.5pt,754.3pt) {(b)\, ResNet-50};
\node[font=\capf] at (160.3pt,505.7pt) {(c)\, VGG19-BN};
\node[font=\capf] at (490.5pt,505.7pt) {(d)\, DenseNet-40};
\node[font=\capf] at (161.7pt,258.3pt) {(e)\, PreResNet-110};
\node[font=\capf] at (490.5pt,257.7pt) {(f)\, ResNet-29};
\node[font=\capf] at (163pt,10.7pt) {(g)\, Wide ResNet-28};
\node[font=\capf] at (490.5pt,10.7pt) {(h)\, DenseNet-100};
\end{tikzpicture}
\end{document}
